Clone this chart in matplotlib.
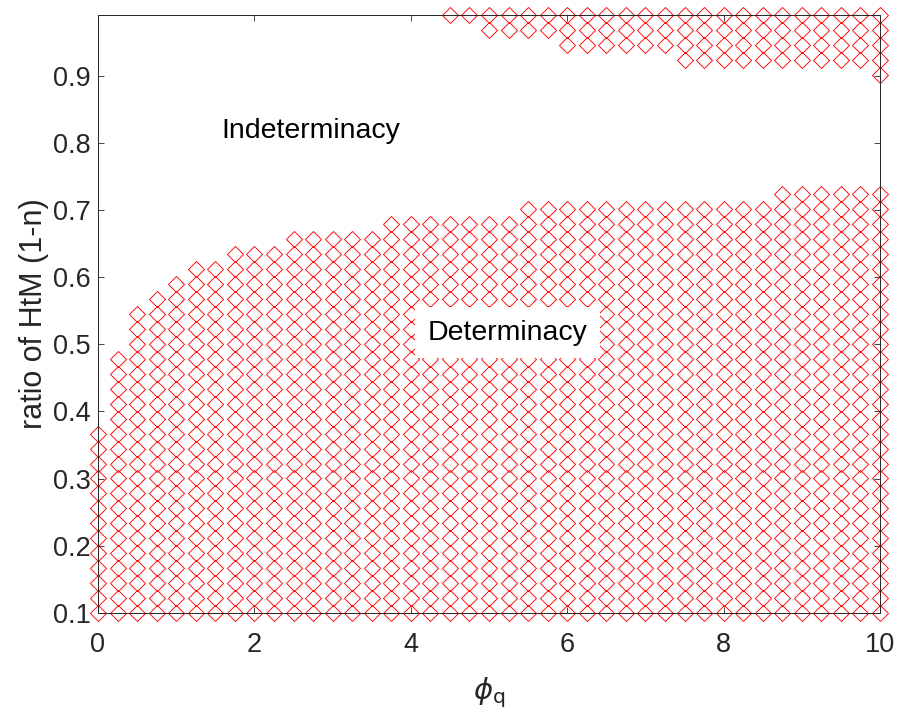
import numpy as np
import matplotlib
matplotlib.use('Agg')
import matplotlib.pyplot as plt

plt.rcParams['font.family'] = ['Liberation Sans', 'DejaVu Sans']

# grid of phi_q and ratio of HtM
phi_q = np.arange(0, 10.001, 0.25)          # 41 columns
ratio = np.linspace(0.1, 0.99, 41)          # 41 rows

# highest determinate row index in lower region for each phi_q column
lower_top = [12, 17, 20, 21, 22, 23, 23, 24, 24, 24, 25, 25, 25, 25, 25, 26, 26, 26,
             26, 26, 26, 26,
             27, 27, 27, 27, 27, 27, 27, 27, 27, 27, 27, 27, 27,
             28, 28, 28, 28, 28, 28]
# lowest determinate row index in upper region (41 = none)
upper_bottom = [41] * 18 + [40, 40] + [39] * 4 + [38] * 6 + [37] * 10 + [36]

xs, ys = [], []
for i, x in enumerate(phi_q):
    for k, y in enumerate(ratio):
        if k <= lower_top[i] or k >= upper_bottom[i]:
            xs.append(x)
            ys.append(y)

fig = plt.figure(figsize=(9.04, 7.2), dpi=100)
ax = fig.add_axes([0.1084, 0.1486, 0.9735 - 0.1084, 0.979 - 0.1486])

ax.plot(xs, ys, 'D', color='red', mfc='none', ms=7.9, mew=0.65, clip_on=False, zorder=1)

ax.set_xlim(0, 10)
ax.set_ylim(0.1, 0.99)
ax.set_xticks([0, 2, 4, 6, 8, 10])
ax.set_yticks(np.round(np.arange(0.1, 0.91, 0.1), 1))
ax.tick_params(direction='in', length=4.5, width=0.6, top=True, right=True,
               labelsize=19.5, colors='#262626')
ax.tick_params(axis='x', pad=14)
ax.tick_params(axis='y', pad=5)
for s in ax.spines.values():
    s.set_color('#262626')
    s.set_linewidth(0.7)
    s.set_zorder(3)

ax.set_xlabel(r'$\phi_{\mathrm{q}}$', fontsize=21, color='#262626', labelpad=12)
ax.set_ylabel('ratio of HtM (1-n)', fontsize=22, color='#262626', labelpad=3)

ax.text(1.58, 0.818, 'Indeterminacy', fontsize=20.5, va='center', ha='left', zorder=5)
ax.text(4.22, 0.517, 'Determinacy', fontsize=20.5, va='center', ha='left', zorder=5,
        bbox=dict(facecolor='white', edgecolor='none', pad=9))

fig.savefig('out.png', dpi=100)
